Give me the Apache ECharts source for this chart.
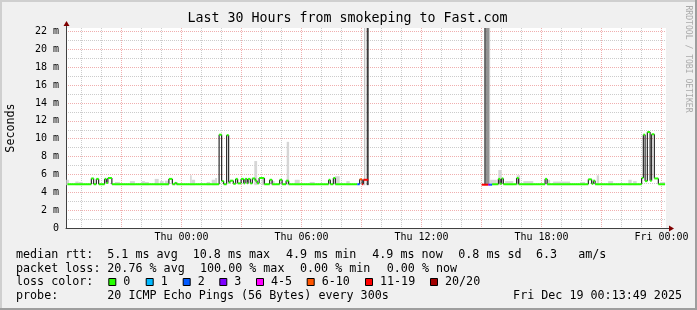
<!DOCTYPE html>
<html><head><meta charset="utf-8">
<script src="https://cdn.jsdelivr.net/npm/echarts@6/dist/echarts.min.js"></script>
<style>html,body{margin:0;padding:0;background:#f0f0f0}#c{width:697px;height:310px}</style>
</head><body><div id="c"></div>
<script>
// ---------------- data (hours relative to Thu 00:00) ----------------
const medianStart = [-5.70,-4.51,-4.39,-4.26,-4.14,-3.84,-3.76,-3.68,-3.48,-0.63,-0.46,-0.33,-0.24,1.88,2.01,2.11,2.26,2.36,2.43,2.59,2.71,2.81,2.98,3.11,3.18,3.28,3.33,3.44,3.54,3.68,3.78,3.88,4.14,4.41,4.53,4.91,5.03,5.23,5.36,7.36,7.44,7.59,7.69,8.79,8.91,9.03,9.09,9.34,15.01,15.34,15.43,15.53,15.84,15.93,16.01,16.09,16.76,16.86,18.18,18.28,20.34,20.51,20.59,20.68,23.01,23.09,23.18,23.29,23.43,23.51,23.64,23.84];
const medianValue = [4.9,5.55,4.9,5.5,4.9,5.5,5.05,5.6,4.9,5.5,4.9,5.05,4.9,10.45,5.25,4.9,10.4,5.1,5.3,4.95,5.5,5.0,5.5,5.0,5.5,5.0,5.5,5.0,5.55,5.3,5.0,5.6,4.9,5.4,4.9,5.4,4.9,5.3,4.9,5.4,4.9,5.6,4.9,4.9,5.45,4.9,5.4,null,4.85,4.85,4.85,4.9,5.5,4.95,5.55,4.9,5.6,4.9,5.5,4.9,5.45,4.95,5.3,4.9,5.6,10.45,5.25,10.75,5.3,10.5,5.55,4.9];
const medianLoss = [0,0,0,0,0,0,0,0,0,0,0,0,0,0,0,0,0,0,0,0,0,0,0,0,0,0,0,0,0,0,0,0,0,0,0,0,0,0,0,0,0,0,0,2,8,15,15,20,15,3,2,0,0,0,0,0,0,0,0,0,0,0,0,0,0,0,0,0,0,0,0,0];
const medianEnd = 24.18;

const smokeStart = [-5.76,-5.31,-5.13,-3.33,-2.58,-1.98,-1.83,-1.34,-1.08,-0.83,-0.38,0.43,0.51,1.26,1.51,1.68,3.64,4.01,4.48,5.26,5.66,6.41,7.66,8.24,9.13,9.26,15.13,15.26,15.38,15.43,15.84,16.18,16.76,17.09,18.26,18.58,19.93,20.76,21.33,22.34,22.58,23.93];
const smokeEnd   = [-5.62,-5.14,-4.94,-3.08,-2.33,-1.83,-1.63,-1.14,-0.89,-0.66,-0.18,0.51,0.68,1.43,1.68,1.78,3.78,4.18,4.66,5.38,5.91,6.66,7.91,8.41,9.19,9.36,15.26,15.38,15.43,15.76,16.01,16.59,16.93,17.59,18.43,19.43,20.18,20.88,21.58,22.51,22.76,24.18];
const smokeTop   = [5.4,5.2,5.15,5.15,5.25,5.25,5.15,5.5,5.25,5.3,5.15,5.9,5.4,5.15,5.4,5.6,7.5,5.6,5.25,9.65,5.4,5.15,5.8,5.25,25,25,25,25,25,5.4,6.5,5.25,5.9,5.25,5.4,5.2,5.15,5.9,5.25,5.4,5.25,5.15];
const smokeDensity = [1,1,1,1,1,1,1,1,1,1,1,1,1,1,1,1,1,1,1,1,1,1,1,1,2,8,6,4,2,1,1,1,1,1,1,1,1,1,1,1,1,1];
const smokeBase = 4.8;

const xTickHours = [0,6,12,18,24];
const xTickLabels = ['Thu 00:00','Thu 06:00','Thu 12:00','Thu 18:00','Fri 00:00'];
const yTickValues = [0,2,4,6,8,10,12,14,16,18,20,22];
const yTickLabels = ['0','2 m','4 m','6 m','8 m','10 m','12 m','14 m','16 m','18 m','20 m','22 m'];

const lossLabels = ['0','1','2','3','4-5','6-10','11-19','20/20'];
const lossColors = ['#26ff00','#00b8ff','#0059ff','#7e00ff','#ff00ff','#ff5500','#ff0000','#a10000'];

const statRtt  = ['median rtt:','5.1 ms avg','10.8 ms max','4.9 ms min','4.9 ms now','0.8 ms sd','6.3   am/s'];
const statLoss = ['packet loss:','20.76 % avg','100.00 % max','0.00 % min','0.00 % now'];
const probeText = ['probe:','20 ICMP Echo Pings (56 Bytes) every 300s'];
const dateText = 'Fri Dec 19 00:13:49 2025';
const titleText = 'Last 30 Hours from smokeping to Fast.com';

// ---------------- build ----------------
function lossBucket(l){ if(l<=3) return l; if(l<=5) return 4; if(l<=10) return 5; if(l<=19) return 6; return 7; }

const horiz = [], horizColor = [], vert = [];
for (let i=0;i<medianStart.length;i++){
  const v = medianValue[i];
  const end = i+1<medianStart.length ? medianStart[i+1] : medianEnd;
  if (v != null){
    horiz.push([medianStart[i], end, v]);
    horizColor.push(lossColors[lossBucket(medianLoss[i])]);
    if (i>0 && medianValue[i-1] != null) vert.push([medianStart[i], medianValue[i-1], v]);
  }
}
const smokeData = smokeStart.map((s,i)=>[s, smokeEnd[i], smokeTop[i]]);
function smokeColor(d){ const g = Math.round(214 - (d-1)*22); const c = Math.max(60,g); return 'rgb('+c+','+c+','+c+')'; }

const gridHours = []; for (let h=-5; h<=24; h++) gridHours.push(h);
const GRID = 'rgba(143,143,143,0.46)', MGRID = 'rgba(222,80,80,0.46)';
const MONO = '"DejaVu Sans Mono", monospace';

function clipRect(r, params){
  return echarts.graphic.clipRectByRect(r, {x:params.coordSys.x, y:params.coordSys.y, width:params.coordSys.width, height:params.coordSys.height});
}

const graphics = [];
// frame
graphics.push({type:'rect', shape:{x:0,y:0,width:697,height:2}, style:{fill:'#cfcfcf'}, silent:true});
graphics.push({type:'rect', shape:{x:0,y:0,width:2,height:310}, style:{fill:'#cfcfcf'}, silent:true});
graphics.push({type:'rect', shape:{x:0,y:308,width:697,height:2}, style:{fill:'#9e9e9e'}, silent:true});
graphics.push({type:'rect', shape:{x:695,y:0,width:2,height:310}, style:{fill:'#9e9e9e'}, silent:true});
// title
graphics.push({type:'text', x:347.5, y:19, style:{text:titleText, font:'13.3px '+MONO, fill:'#000', textAlign:'center', textVerticalAlign:'middle'}, silent:true});
// y axis name
graphics.push({type:'text', x:10.5, y:128, rotation:Math.PI/2, style:{text:'Seconds', font:'11.7px '+MONO, fill:'#000', textAlign:'center', textVerticalAlign:'middle'}, silent:true});
// rrdtool credit
graphics.push({type:'text', x:688, y:59, rotation:-Math.PI/2, style:{text:'RRDTOOL / TOBI OETIKER', font:'8.1px '+MONO, fill:'#aaaaaa', textAlign:'center', textVerticalAlign:'middle'}, silent:true});
// axis extensions and arrows
graphics.push({type:'line', shape:{x1:66.5,y1:28,x2:66.5,y2:24}, style:{stroke:'#404040', lineWidth:1}, silent:true, z:50});
graphics.push({type:'polygon', shape:{points:[[66.5,21],[63.5,26],[69.5,26]]}, style:{fill:'#7f0000'}, silent:true, z:50});
graphics.push({type:'line', shape:{x1:666,y1:228.5,x2:670,y2:228.5}, style:{stroke:'#404040', lineWidth:1}, silent:true, z:50});
graphics.push({type:'polygon', shape:{points:[[674,228.5],[669,225.5],[669,231.5]]}, style:{fill:'#7f0000'}, silent:true, z:50});

// legend lines
const F = '11.7px '+MONO;
const rttX = [16,107.3,192.7,286,372.3,458.3,536];
statRtt.forEach((t,i)=>graphics.push({type:'text', x:rttX[i], y:255, style:{text:t, font:F, fill:'#000', textAlign:'left', textVerticalAlign:'middle'}, silent:true}));
const lossX = [16,107.3,200,300,386.7];
statLoss.forEach((t,i)=>graphics.push({type:'text', x:lossX[i], y:268.5, style:{text:t, font:F, fill:'#000', textAlign:'left', textVerticalAlign:'middle'}, silent:true}));
graphics.push({type:'text', x:16, y:282, style:{text:'loss color:', font:F, fill:'#000', textAlign:'left', textVerticalAlign:'middle'}, silent:true});
const boxX = [108.3,145.7,182.7,219.3,256,306.7,365,430];
lossLabels.forEach((t,i)=>{
  graphics.push({type:'rect', shape:{x:boxX[i]+0.5, y:278.5, width:7, height:7}, style:{fill:lossColors[i], stroke:'#000', lineWidth:1}, silent:true});
  graphics.push({type:'text', x:boxX[i]+15, y:282, style:{text:t, font:F, fill:'#000', textAlign:'left', textVerticalAlign:'middle'}, silent:true});
});
const probeX = [16,107.3];
probeText.forEach((t,i)=>graphics.push({type:'text', x:probeX[i], y:296, style:{text:t, font:F, fill:'#000', textAlign:'left', textVerticalAlign:'middle'}, silent:true}));
graphics.push({type:'text', x:682, y:296, style:{text:dateText, font:F, fill:'#000', textAlign:'right', textVerticalAlign:'middle'}, silent:true});

const option = {
  animation:false,
  backgroundColor:'#f0f0f0',
  grid:{left:66, top:28, width:600, height:200, show:true, backgroundColor:'#ffffff', borderWidth:0, containLabel:false},
  xAxis:{
    type:'value', min:-5.775, max:24.225,
    axisLine:{show:true, onZero:false, lineStyle:{color:'#404040', width:1}},
    axisTick:{show:false, customValues:gridHours},
    axisLabel:{customValues:xTickHours, formatter:(v)=>{const k=xTickHours.indexOf(v); return k>=0?xTickLabels[k]:'';}, fontFamily:'DejaVu Sans Mono', fontSize:10, color:'#000', margin:4},
    splitLine:{show:true, showMinLine:true, showMaxLine:true, lineStyle:{color:[GRID,GRID,MGRID], type:[1,1], width:1}}
  },
  yAxis:{
    type:'value', min:0, max:22.4, interval:1,
    axisLine:{show:true, onZero:false, lineStyle:{color:'#404040', width:1}},
    axisTick:{show:false},
    axisLabel:{interval:0, formatter:(v)=>{const k=yTickValues.indexOf(v); return k>=0?yTickLabels[k]:'';}, fontFamily:'DejaVu Sans Mono', fontSize:10, color:'#000', margin:7},
    splitLine:{show:true, showMaxLine:false, lineStyle:{color:[MGRID,GRID], type:[1,1], width:1}}
  },
  series:[
    {type:'custom', name:'smoke', z:1, silent:true, data:smokeData, encode:{x:[0,1], y:2},
     renderItem:(params, api)=>{
       const i = params.dataIndex;
       const p0 = api.coord([api.value(0), api.value(2)]);
       const p1 = api.coord([api.value(1), smokeBase]);
       const r = clipRect({x:p0[0], y:p0[1], width:p1[0]-p0[0], height:p1[1]-p0[1]}, params);
       if (!r) return null;
       return {type:'rect', shape:r, style:{fill:smokeColor(smokeDensity[i])}};
     }},
    {type:'custom', name:'median step', z:2, silent:true, data:vert, encode:{x:0, y:[1,2]},
     renderItem:(params, api)=>{
       const a = api.coord([api.value(0), api.value(1)]);
       const b = api.coord([api.value(0), api.value(2)]);
       return {type:'line', shape:{x1:a[0], y1:a[1], x2:b[0], y2:b[1]}, style:{stroke:'#000', lineWidth:1}};
     }},
    {type:'custom', name:'median rtt', z:3, silent:true, data:horiz, encode:{x:[0,1], y:2},
     renderItem:(params, api)=>{
       const a = api.coord([api.value(0), api.value(2)]);
       const b = api.coord([api.value(1), api.value(2)]);
       return {type:'line', shape:{x1:a[0], y1:a[1], x2:b[0], y2:b[1]}, style:{stroke:horizColor[params.dataIndex], lineWidth:2}};
     }}
  ],
  graphic:graphics
};
const chart = echarts.init(document.getElementById('c'), null, {renderer:'canvas'});
chart.setOption(option);
</script></body></html>
